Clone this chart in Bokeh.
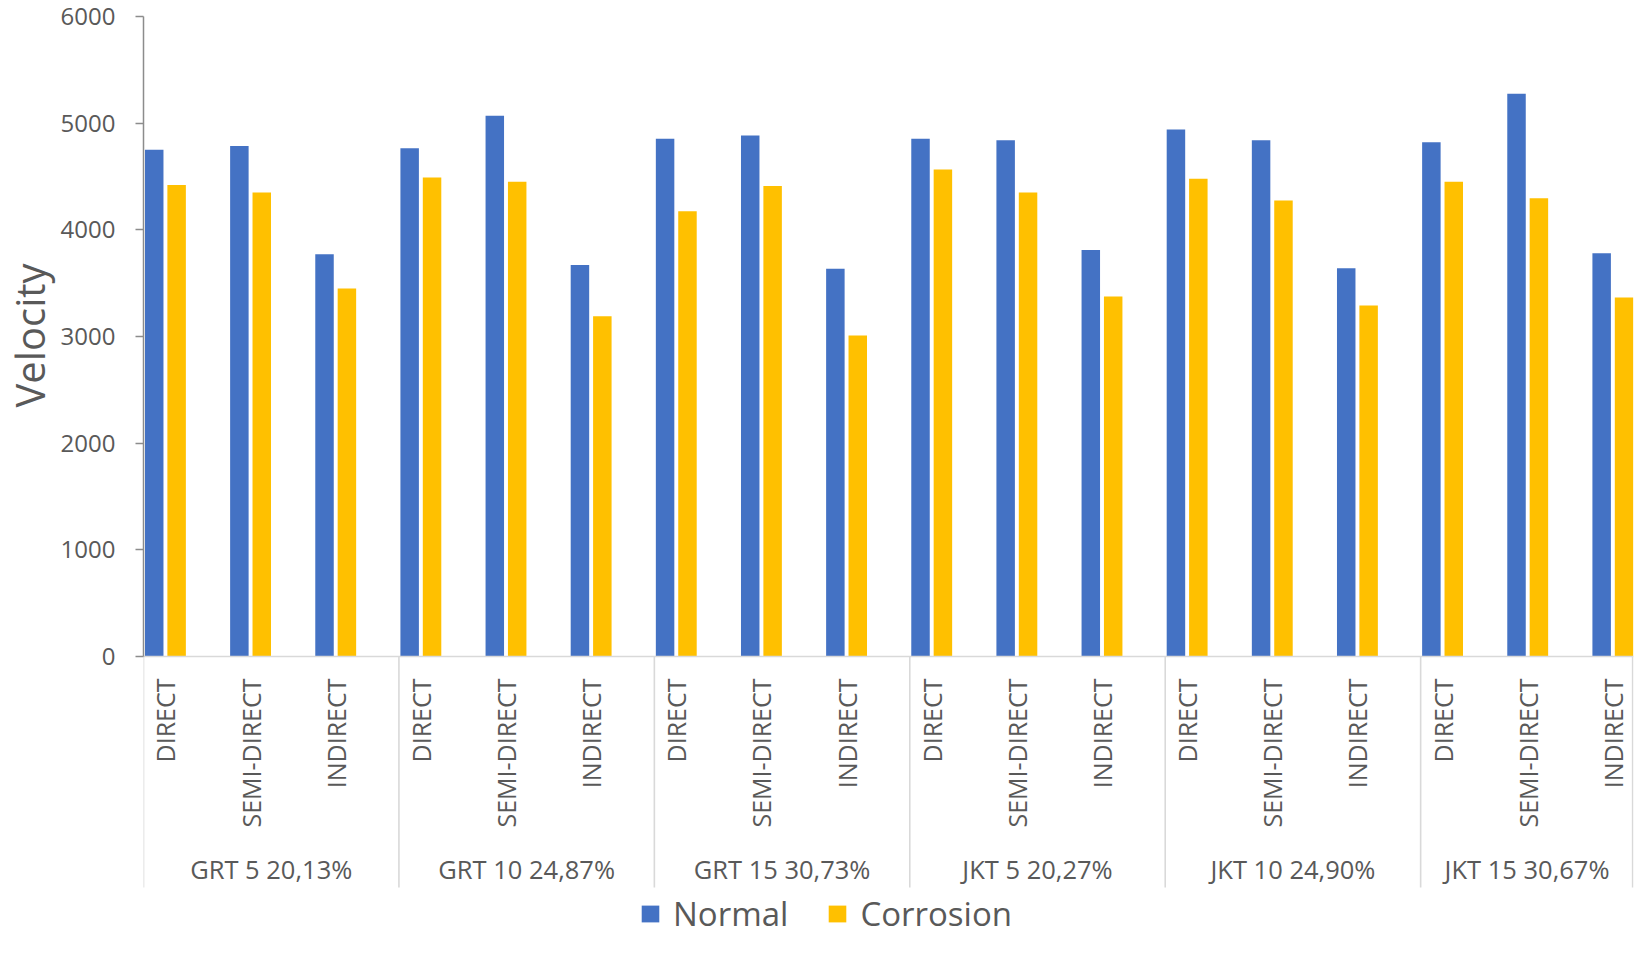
from math import pi
from bokeh.plotting import figure
from bokeh.models import (Range1d, FixedTicker, Legend, LegendItem, Title,
                          ColumnDataSource)
from bokeh.core.properties import value
from bokeh.embed import file_html
from bokeh.resources import INLINE

# ---------------- data ----------------
groups = ["GRT 5 20,13%", "GRT 10 24,87%", "GRT 15 30,73%",
          "JKT 5 20,27%", "JKT 10 24,90%", "JKT 15 30,67%"]
methods = ["DIRECT", "SEMI-DIRECT", "INDIRECT"]
normal = [4750, 4785, 3770,
          4765, 5070, 3670,
          4855, 4885, 3635,
          4855, 4840, 3810,
          4940, 4840, 3640,
          4820, 5275, 3780]
corrosion = [4420, 4350, 3450,
             4490, 4450, 3190,
             4175, 4410, 3010,
             4565, 4350, 3375,
             4480, 4275, 3290,
             4450, 4295, 3365]
y_ticks = [0, 1000, 2000, 3000, 4000, 5000, 6000]
y_title = "Velocity"
series_names = ["Normal", "Corrosion"]

# ---------------- layout constants ----------------
FONT = "Open Sans"
TEXT = "#595959"
BLUE = "#4472C4"
GOLD = "#FFC000"
W, H = 1634, 937
LEFT, TOP, RIGHT = 142, 16, 1
zero_px = 656                          # canvas y of value 0
px_per_unit_y = (zero_px - TOP) / 6000.0
y_start = -(H - zero_px) / px_per_unit_y
x_end = 17.5
slot_px = (W - LEFT - RIGHT) / x_end


def y_at(canvas_y):
    return -(canvas_y - zero_px) / px_per_unit_y


n_m = len(methods)
idx = list(range(len(normal)))
src = ColumnDataSource(dict(
    xn=[i + 0.126 for i in idx],
    xc=[i + 0.389 for i in idx],
    xl=[i + 0.257 for i in idx],
    normal=normal,
    corrosion=corrosion,
    method=[methods[i % n_m] for i in idx],
))

p = figure(width=W, height=H, output_backend="svg", toolbar_location=None,
           x_range=Range1d(0, x_end), y_range=Range1d(y_start, 6000),
           x_axis_location=None, min_border_left=LEFT, min_border_top=TOP,
           min_border_right=RIGHT, min_border_bottom=0)
p.outline_line_color = None
p.xgrid.visible = False
p.ygrid.visible = False
p.background_fill_color = "white"

ax = p.yaxis[0]
ax.bounds = (0, 6000)
ax.ticker = FixedTicker(ticks=y_ticks)
ax.minor_tick_line_color = None
ax.major_tick_in = 0
ax.major_tick_out = 8
ax.axis_line_color = "#8c8c8c"
ax.axis_line_width = 1.5
ax.major_tick_line_color = "#8c8c8c"
ax.major_tick_line_width = 1.5
ax.major_label_standoff = 20
ax.major_label_text_font = FONT
ax.major_label_text_font_size = "24px"
ax.major_label_text_color = TEXT

# y axis title, placed beside the value axis (bottom of text at y=407)
p.add_layout(Title(text=y_title, align="left", vertical_align="middle",
                   offset=(H - 407), standoff=0, text_font=FONT,
                   text_font_size="40px", text_font_style="normal",
                   text_color=TEXT), "left")

bw = 18.5 / slot_px
r_n = p.vbar(x="xn", top="normal", width=bw, source=src, color=BLUE,
             line_color=None)
r_c = p.vbar(x="xc", top="corrosion", width=bw, source=src, color=GOLD,
             line_color=None)

# category axis line and group separators
sep_bottom = y_at(887)
sep_x = [3 * g for g in range(len(groups))] + [x_end - 0.01]
p.segment(x0=sep_x, x1=sep_x, y0=[0] * len(sep_x), y1=[sep_bottom] * len(sep_x),
          line_color="#d9d9d9", line_width=1.6)
p.segment(x0=[0], x1=[x_end], y0=[0], y1=[0], line_color="#d9d9d9",
          line_width=1.6)

# method labels (rotated)
p.text(x="xl", y=y_at(678), text="method", source=src, angle=pi / 2,
       text_align="right", text_baseline="middle",
       text_font=value(FONT), text_font_size="25px", text_color=TEXT)

# group labels
gx = [(3 * g + min(3 * g + 3, x_end)) / 2 for g in range(len(groups))]
p.text(x=gx, y=[y_at(868)] * len(groups), text=groups,
       text_align="center", text_baseline="middle",
       text_font=value(FONT), text_font_size="25.5px", text_color=TEXT)

legend = Legend(items=[LegendItem(label=series_names[0], renderers=[r_n]),
                       LegendItem(label=series_names[1], renderers=[r_c])],
                orientation="horizontal", location=(496, 1),
                glyph_width=22, glyph_height=21, label_standoff=12,
                spacing=38, padding=0, margin=0, border_line_color=None,
                background_fill_alpha=0, label_text_font=FONT,
                label_text_font_size="33px", label_text_color=TEXT)
p.add_layout(legend)

open("out.html", "w").write(file_html(p, INLINE))
